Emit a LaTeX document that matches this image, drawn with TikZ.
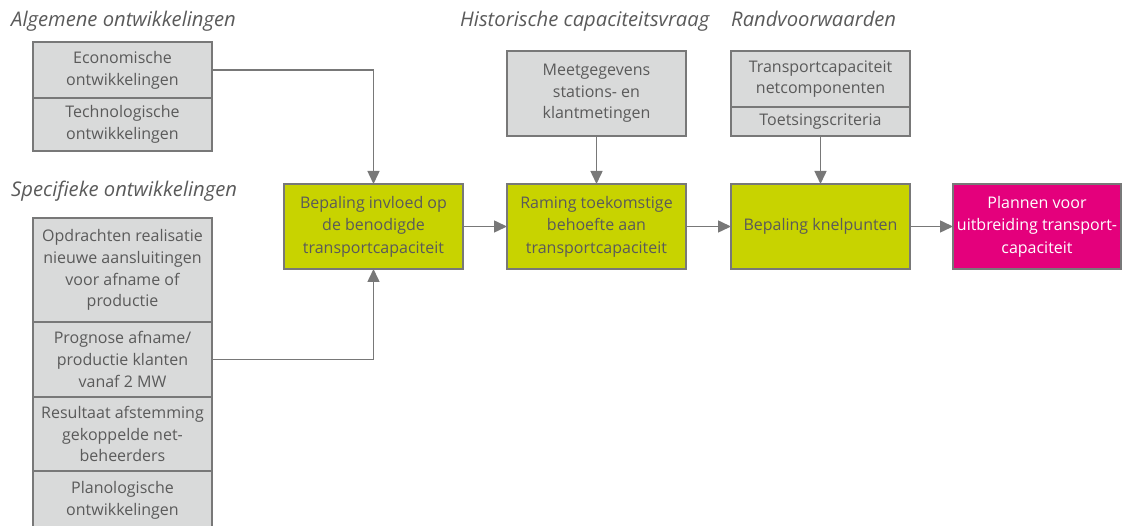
\documentclass[tikz,border=0pt]{standalone}
\usepackage{fontspec}
\setmainfont{Open Sans}
\definecolor{boxgrey}{RGB}{217,218,218}
\definecolor{boxlime}{RGB}{200,211,0}
\definecolor{boxpink}{RGB}{228,0,124}
\definecolor{linegrey}{RGB}{120,120,120}
\definecolor{textgrey}{RGB}{90,90,90}
\usetikzlibrary{arrows.meta, positioning}

\begin{document}
\begin{tikzpicture}[
    x=1pt, y=-1pt,
    cell/.style={rectangle, draw=linegrey, line width=1.1pt, fill=boxgrey,
                 text=textgrey, minimum width=179pt, align=center,
                 font=\fontsize{16}{21.7}\selectfont, inner sep=2pt,
                 outer sep=0pt, anchor=north},
    stage/.style={rectangle, draw=linegrey, line width=1.1pt, fill=boxlime,
                  text=textgrey, minimum width=179pt, minimum height=85pt,
                  align=center, font=\fontsize{16}{22.5}\selectfont,
                  inner sep=2pt, outer sep=0pt},
    result/.style={stage, fill=boxpink, text=white, minimum width=168pt},
    heading/.style={anchor=base west, text=textgrey, inner sep=0pt,
                    font=\fontsize{20.2}{24}\selectfont\itshape},
    flow/.style={draw=linegrey, line width=1.5pt,
                 -{Triangle[length=13pt, width=12pt]}}
]
\useasboundingbox (0,0) rectangle (1124,526);

% headings
\node[heading] (hAlg)  at (11,27)  {Algemene ontwikkelingen};
\node[heading] (hSpec) at (11,197) {Specifieke ontwikkelingen};
\node[heading] (hHist) at (460,27) {Historische capaciteitsvraag};
\node[heading] (hRand) at (731,27) {Randvoorwaarden};

% input stacks
\node[cell, minimum height=56pt] (econ) at (122.5,42) {Economische\\ontwikkelingen};
\node[cell, minimum height=53pt, below=0pt of econ] (tech) {Technologische\\ontwikkelingen};

\node[cell, minimum height=104pt] (opdr) at (122.5,218)
    {Opdrachten realisatie\\nieuwe aansluitingen\\voor afname of\\productie};
\node[cell, minimum height=75pt, below=0pt of opdr] (prog)
    {Prognose afname/\\productie klanten\\vanaf 2 MW};
\node[cell, minimum height=74pt, below=0pt of prog] (resu)
    {Resultaat afstemming\\gekoppelde net-\\beheerders};
\node[cell, minimum height=58pt, below=0pt of resu] (plan)
    {Planologische\\ontwikkelingen};

\node[cell, minimum height=85pt] (meet) at (596.5,51)
    {Meetgegevens\\stations- en\\klantmetingen};

\node[cell, minimum height=56pt] (tcap) at (820.5,51)
    {Transportcapaciteit\\netcomponenten};
\node[cell, minimum height=29pt, below=0pt of tcap] (toets) {Toetsingscriteria};

% main chain
\node[stage] (invloed) at (373.5,226.5) {Bepaling invloed op\\de benodigde\\transportcapaciteit};
\node[stage] (raming)  at (596.5,226.5) {Raming toekomstige\\behoefte aan\\transportcapaciteit};
\node[stage] (knel)    at (820.5,226.5) {Bepaling knelpunten};
\node[result] (plannen) at (1037,226.5) {Plannen voor\\uitbreiding transport-\\capaciteit};

% connectors
\draw[flow] (econ.east) -| (invloed.north);
\draw[flow] (prog.east) -| (invloed.south);
\draw[flow] (meet.south) -- (raming.north);
\draw[flow] (toets.south) -- (knel.north);
\draw[flow] (invloed) -- (raming);
\draw[flow] (raming) -- (knel);
\draw[flow] (knel) -- (plannen);
\end{tikzpicture}
\end{document}
